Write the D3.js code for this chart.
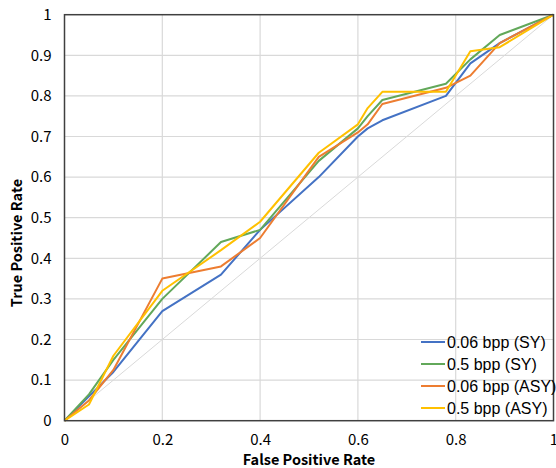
<!DOCTYPE html>
<html>
<head>
<meta charset="utf-8">
<script src="https://cdn.jsdelivr.net/npm/d3@7"></script>
<style>
  body { margin: 0; background: #fff; }
  .tick text { font-family: "Noto Sans CJK SC", "Liberation Sans", sans-serif; font-size: 15px; fill: #000; }
  .axis-title { font-family: "Noto Sans CJK SC", "Liberation Sans", sans-serif; font-size: 14.5px; font-weight: bold; fill: #000; }
  .legend text { font-family: "Liberation Sans", Arial, sans-serif; font-size: 16px; fill: #000; }
</style>
</head>
<body>
<div id="root"></div>
<script>
const fpr = [0, 0.05, 0.1, 0.2, 0.32, 0.4, 0.52, 0.6, 0.62, 0.65, 0.78, 0.83, 0.89, 1];
const tprSy006 = [0, 0.06, 0.12, 0.27, 0.36, 0.47, 0.60, 0.70, 0.72, 0.74, 0.80, 0.88, 0.93, 1];
const tprSy05 = [0, 0.065, 0.15, 0.30, 0.44, 0.47, 0.64, 0.72, 0.75, 0.79, 0.83, 0.89, 0.95, 1];
const tprAsy006 = [0, 0.05, 0.125, 0.35, 0.38, 0.45, 0.65, 0.71, 0.73, 0.78, 0.82, 0.85, 0.93, 1];
const tprAsy05 = [0, 0.04, 0.16, 0.32, 0.42, 0.49, 0.66, 0.73, 0.77, 0.81, 0.81, 0.91, 0.92, 1];

const seriesNames = ['0.06 bpp (SY)', '0.5 bpp (SY)', '0.06 bpp (ASY)', '0.5 bpp (ASY)'];
const seriesColors = ['#4472C4', '#62A85A', '#ED7D31', '#FFC000'];
const seriesValues = [tprSy006, tprSy05, tprAsy006, tprAsy05];

const xTicks = [0, 0.2, 0.4, 0.6, 0.8, 1];
const yTicks = [0, 0.1, 0.2, 0.3, 0.4, 0.5, 0.6, 0.7, 0.8, 0.9, 1];

const svgWidth = 556;
const svgHeight = 468;
const margin = { top: 14.7, right: 2.5, bottom: 47.3, left: 64.5 };
const chartWidth = svgWidth - margin.left - margin.right;
const chartHeight = svgHeight - margin.top - margin.bottom;

const svg = d3.select('#root').append('svg')
  .attr('width', svgWidth)
  .attr('height', svgHeight);

const chart = svg.append('g')
  .attr('transform', `translate(${margin.left}, ${margin.top})`);

const x = d3.scaleLinear().domain([0, 1]).range([0, chartWidth]);
const y = d3.scaleLinear().domain([0, 1]).range([chartHeight, 0]);

// gridlines
chart.append('g')
  .selectAll('line')
  .data(xTicks.slice(1, -1))
  .join('line')
  .attr('x1', d => x(d)).attr('x2', d => x(d))
  .attr('y1', 0).attr('y2', chartHeight)
  .attr('stroke', '#d9d9d9').attr('stroke-width', 1.2);

chart.append('g')
  .selectAll('line')
  .data(yTicks.slice(1, -1))
  .join('line')
  .attr('x1', 0).attr('x2', chartWidth)
  .attr('y1', d => y(d)).attr('y2', d => y(d))
  .attr('stroke', '#d9d9d9').attr('stroke-width', 1.2);

// chance diagonal
chart.append('line')
  .attr('x1', x(0)).attr('y1', y(0))
  .attr('x2', x(1)).attr('y2', y(1))
  .attr('stroke', '#d9d9d9').attr('stroke-width', 1);

const line = d3.line()
  .x((d, i) => x(fpr[i]))
  .y(d => y(d));

chart.selectAll('.series')
  .data(seriesValues)
  .join('path')
  .attr('class', 'series')
  .attr('fill', 'none')
  .attr('stroke', (d, i) => seriesColors[i])
  .attr('stroke-width', 2)
  .attr('stroke-linejoin', 'round')
  .attr('d', line);

// frame
chart.append('rect')
  .attr('width', chartWidth)
  .attr('height', chartHeight)
  .attr('fill', 'none')
  .attr('stroke', '#404040')
  .attr('stroke-width', 1.5);

const fmt = d => (d === 0 || d === 1) ? String(d) : d3.format('.1f')(d);

const xAxis = chart.append('g')
  .attr('transform', `translate(0, ${chartHeight})`)
  .call(d3.axisBottom(x).tickValues(xTicks).tickFormat(fmt).tickSize(0).tickPadding(14));
xAxis.select('.domain').remove();

const yAxis = chart.append('g')
  .call(d3.axisLeft(y).tickValues(yTicks).tickFormat(fmt).tickSize(0).tickPadding(13));
yAxis.select('.domain').remove();

svg.append('text')
  .attr('class', 'axis-title')
  .attr('x', margin.left + chartWidth / 2)
  .attr('y', 465)
  .attr('text-anchor', 'middle')
  .text('False Positive Rate');

svg.append('text')
  .attr('class', 'axis-title')
  .attr('transform', 'translate(22, 243) rotate(-90)')
  .attr('text-anchor', 'middle')
  .text('True Positive Rate');

// legend
const legend = svg.append('g')
  .attr('class', 'legend')
  .attr('transform', 'translate(421, 342)');

const item = legend.selectAll('g')
  .data(seriesNames)
  .join('g')
  .attr('transform', (d, i) => `translate(0, ${i * 22})`);

item.append('line')
  .attr('x1', 0).attr('x2', 24)
  .attr('stroke', (d, i) => seriesColors[i])
  .attr('stroke-width', 2);

item.append('text')
  .attr('x', 26)
  .attr('dy', '0.35em')
  .text(d => d);
</script>
</body>
</html>
